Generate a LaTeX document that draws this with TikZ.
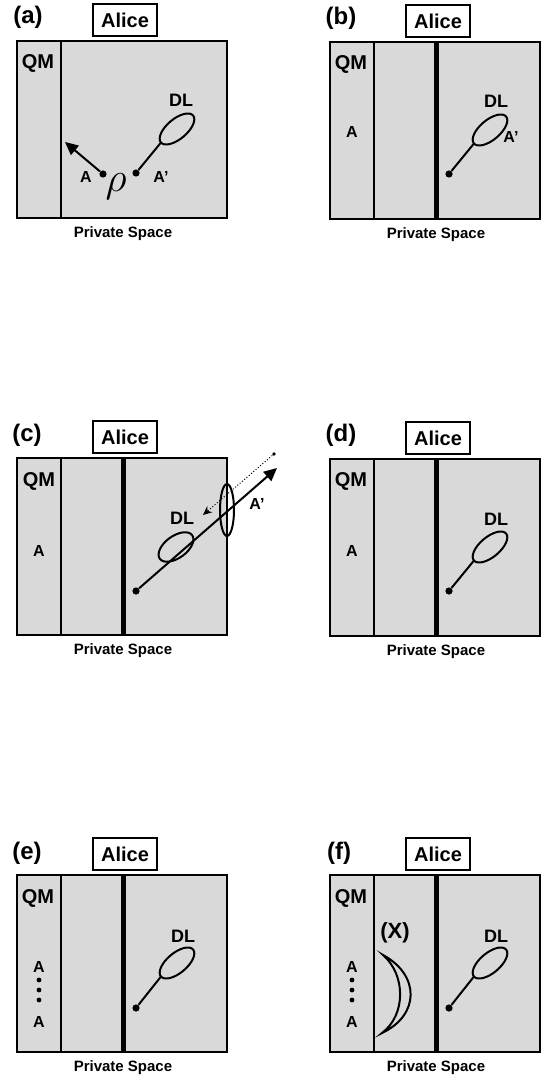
\documentclass[tikz,border=0pt]{standalone}
\usepackage{fontspec}
\setmainfont{Liberation Sans}
\usepackage{tikz}
\usetikzlibrary{arrows.meta}

\definecolor{spacegray}{RGB}{217,217,217}

\begin{document}
\begin{tikzpicture}[x=0.5pt,y=-0.5pt,
  panellbl/.style={font=\fontsize{12}{14}\selectfont\bfseries},
  alicebox/.style={draw,line width=0.6pt,fill=white,minimum width=32pt,minimum height=16pt,inner sep=0pt,font=\fontsize{10}{12}\selectfont\bfseries},
  qmlbl/.style={font=\fontsize{10}{12}\selectfont\bfseries},
  pslbl/.style={font=\fontsize{7.5}{9}\selectfont\bfseries},
  smalllbl/.style={font=\fontsize{8}{9}\selectfont\bfseries,inner sep=1pt},
  dllbl/.style={font=\fontsize{9}{10}\selectfont\bfseries},
  dot/.style={circle,fill=black,inner sep=0pt,minimum size=3.6pt},
  frameline/.style={line width=0.6pt},
  qmwall/.style={line width=1.4pt},
  wall/.style={line width=2.5pt},
  photonarrow/.style={line width=1pt,-{Triangle[length=6.5pt,width=6pt]}},
  loopline/.style={line width=1pt}]
\useasboundingbox (0,0) rectangle (545,1081);

% (a)
\begin{scope}[shift={(17,41)}]
\fill[spacegray] (0,0) rectangle (210,177);
\draw[frameline] (0,0) rectangle (210,177);
\draw[qmwall] (0,0) rectangle (44,177);
\node[panellbl] (la) at (11,-24) {(a)};
\node[alicebox] (alicea) at (108,-21) {Alice};
\node[pslbl] (psa) at (106,193) {Private Space};
\node[qmlbl] (qma) at (21,22) {QM};
\node[dot] (pa) at (86,133) {};
\node[dot] (pa') at (119,132) {};
\coordinate (qa) at (48,101);
\coordinate (dla) at (160,88);
\coordinate (enda) at (144,101.5);
\draw[photonarrow] (pa) -- (qa);
\draw[loopline] (pa') -- (enda);
\draw[loopline,rotate around={40:(dla)}] (dla) ellipse (21 and 10);
\node[smalllbl] (aa) at (69,136) {A};
\node (rhoa) at (99,146) {\fontsize{20}{22}\selectfont$\rho$};
\node[smalllbl] (aa') at (144,136) {A’};
\node[dllbl] (dltxta) at (164,59) {DL};
\end{scope}

% (b)
\begin{scope}[shift={(330,42)}]
\fill[spacegray] (0,0) rectangle (210,177);
\draw[frameline] (0,0) rectangle (210,177);
\draw[qmwall] (0,0) rectangle (44,177);
\draw[wall] (106,0) -- (106,177);
\node[panellbl] (lb) at (11,-24) {(b)};
\node[alicebox] (aliceb) at (108,-21) {Alice};
\node[pslbl] (psb) at (106,193) {Private Space};
\node[qmlbl] (qmb) at (21,22) {QM};
\node[smalllbl] (ab) at (22,90) {A};
\node[dot] (pb) at (119,132) {};
\coordinate (dlb) at (160,88);
\coordinate (endb) at (144,101.5);
\draw[loopline] (pb) -- (endb);
\draw[loopline,rotate around={40:(dlb)}] (dlb) ellipse (21 and 10);
\node[dllbl] (dltxtb) at (166,59) {DL};
\node[smalllbl] (ab') at (181,95) {A’};
\end{scope}

% (c)
\begin{scope}[shift={(17,458)}]
\fill[spacegray] (0,0) rectangle (210,177);
\draw[frameline] (0,0) rectangle (210,177);
\draw[qmwall] (0,0) rectangle (44,177);
\draw[wall] (106,0) -- (106,177);
\node[panellbl] (lc) at (10,-23) {(c)};
\node[alicebox] (alicec) at (108,-21) {Alice};
\node[pslbl] (psc) at (106,193) {Private Space};
\node[qmlbl] (qmc) at (22,23) {QM};
\node[smalllbl] (ac) at (22,93) {A};
\node[dot] (pc) at (119,133) {};
\coordinate (outc) at (260,10);
\coordinate (dlc) at (159,89);
\draw[loopline,rotate around={36:(dlc)}] (dlc) ellipse (20 and 11);
\draw[loopline] (210,52) ellipse (7 and 26);
\draw[photonarrow] (pc) -- (outc);
\node[dot,minimum size=1.8pt] (evec) at (257,-4) {};
\coordinate (backc) at (186,57);
\draw[line width=0.5pt,densely dotted,-{Stealth[length=4.5pt,width=4pt]}] (evec) -- (backc);
\node[dllbl] (dltxtc) at (165,60) {DL};
\node[smalllbl] (ac') at (240,46) {A’};
\end{scope}

% (d)
\begin{scope}[shift={(330,459)}]
\fill[spacegray] (0,0) rectangle (210,177);
\draw[frameline] (0,0) rectangle (210,177);
\draw[qmwall] (0,0) rectangle (44,177);
\draw[wall] (106,0) -- (106,177);
\node[panellbl] (ld) at (11,-24) {(d)};
\node[alicebox] (aliced) at (108,-21) {Alice};
\node[pslbl] (psd) at (106,193) {Private Space};
\node[qmlbl] (qmd) at (21,22) {QM};
\node[smalllbl] (ad) at (22,92) {A};
\node[dot] (pd) at (119,132) {};
\coordinate (dld) at (160,88);
\coordinate (endd) at (144,101.5);
\draw[loopline] (pd) -- (endd);
\draw[loopline,rotate around={40:(dld)}] (dld) ellipse (21 and 10);
\node[dllbl] (dltxtd) at (166,60) {DL};
\end{scope}

% (e)
\begin{scope}[shift={(17,875)}]
\fill[spacegray] (0,0) rectangle (210,177);
\draw[frameline] (0,0) rectangle (210,177);
\draw[qmwall] (0,0) rectangle (44,177);
\draw[wall] (106,0) -- (106,177);
\node[panellbl] (le) at (10,-22) {(e)};
\node[alicebox] (alicee) at (108,-21) {Alice};
\node[pslbl] (pse) at (106,193) {Private Space};
\node[qmlbl] (qme) at (21,23) {QM};
\node[smalllbl] (ae1) at (22,92) {A};
\node[smalllbl] (ae2) at (22,147) {A};
\foreach \y in {105,115,125} \fill (22,\y) circle (1.2pt);
\node[dot] (pe) at (119,133) {};
\coordinate (dle) at (160,88);
\coordinate (ende) at (144,101.5);
\draw[loopline] (pe) -- (ende);
\draw[loopline,rotate around={40:(dle)}] (dle) ellipse (21 and 10);
\node[dllbl] (dltxte) at (166,61) {DL};
\end{scope}

% (f)
\begin{scope}[shift={(330,875)}]
\fill[spacegray] (0,0) rectangle (210,177);
\draw[frameline] (0,0) rectangle (210,177);
\draw[qmwall] (0,0) rectangle (44,177);
\draw[wall] (106,0) -- (106,177);
\node[panellbl] (lf) at (9,-22) {(f)};
\node[alicebox] (alicef) at (108,-21) {Alice};
\node[pslbl] (psf) at (106,193) {Private Space};
\node[qmlbl] (qmf) at (21,23) {QM};
\node[smalllbl] (af1) at (22,92) {A};
\node[smalllbl] (af2) at (22,147) {A};
\foreach \y in {105,115,125} \fill (22,\y) circle (1.2pt);
\node[font=\fontsize{11}{13}\selectfont\bfseries] (xf) at (65,58) {(X)};
\draw[loopline] (53,80) .. controls (90,100) and (90,140) .. (52,158)
  .. controls (76,140) and (76,100) .. cycle;
\node[dot] (pf) at (119,133) {};
\coordinate (dlf) at (160,88);
\coordinate (endf) at (144,101.5);
\draw[loopline] (pf) -- (endf);
\draw[loopline,rotate around={40:(dlf)}] (dlf) ellipse (21 and 10);
\node[dllbl] (dltxtf) at (166,61) {DL};
\end{scope}

\end{tikzpicture}
\end{document}
